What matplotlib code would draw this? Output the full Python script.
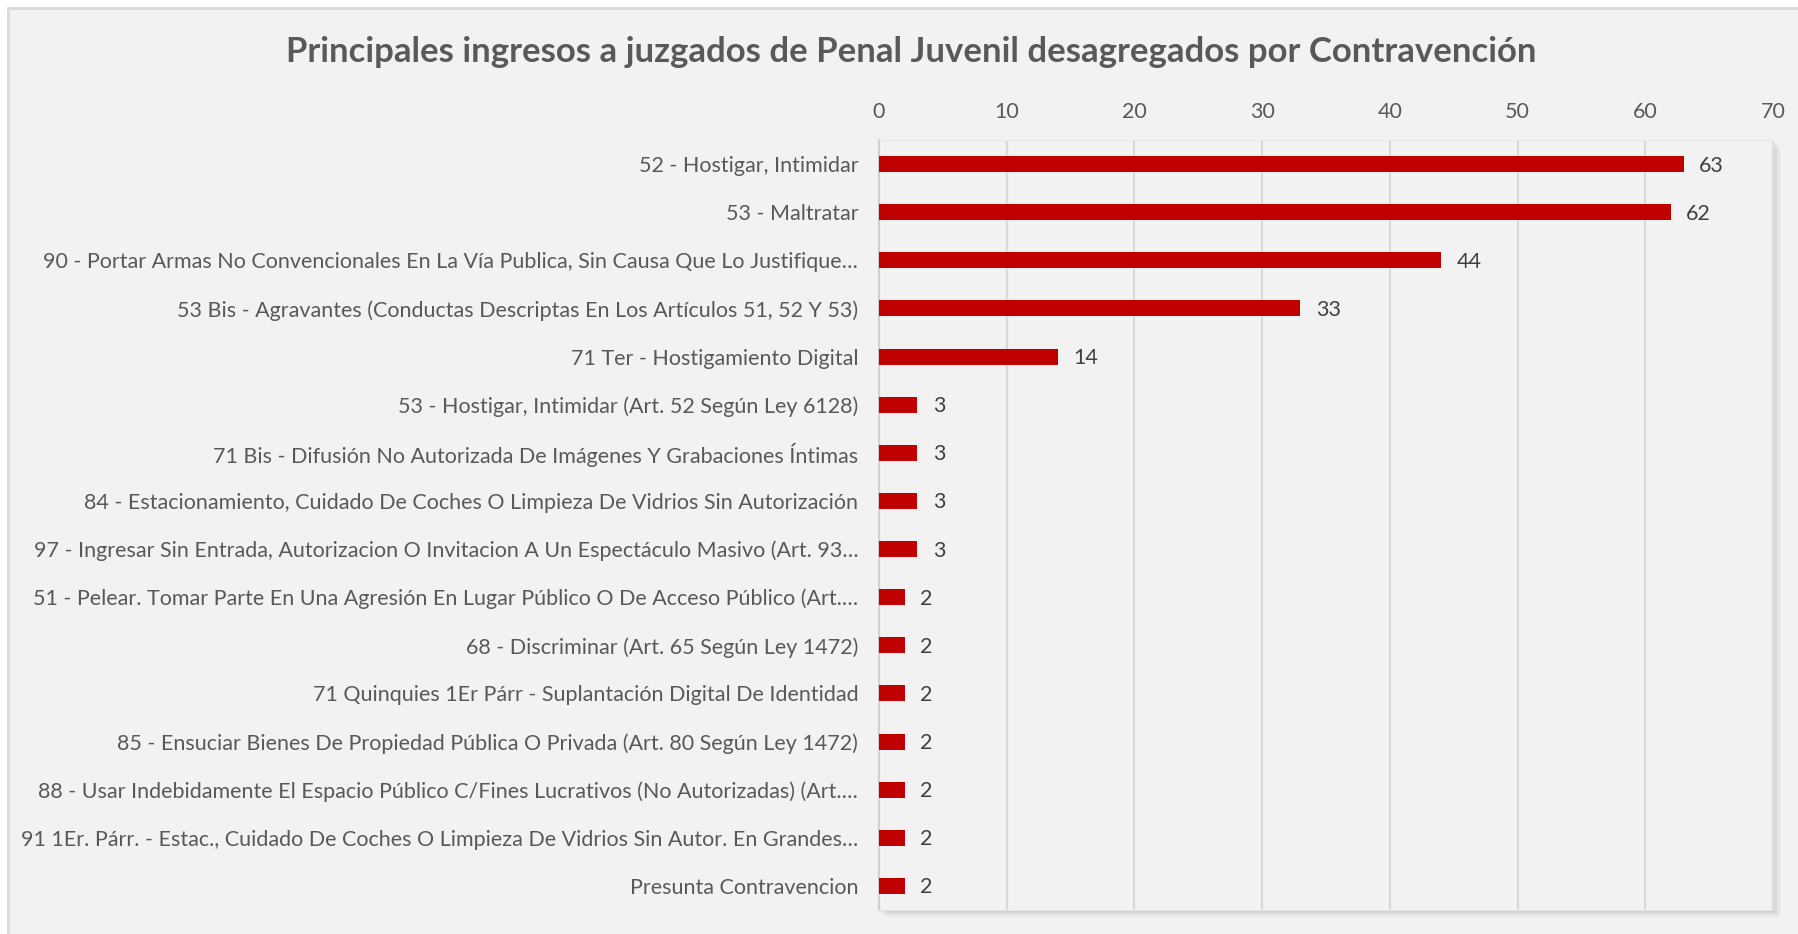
import matplotlib
matplotlib.use('Agg')
from matplotlib import pyplot as plt
from matplotlib.patches import Rectangle

plt.rcParams['font.family'] = ['Lato', 'DejaVu Sans']

# datos (de arriba hacia abajo)
categorias = [
    '52 - Hostigar, Intimidar',
    '53 - Maltratar',
    '90 - Portar Armas No Convencionales En La Vía Publica, Sin Causa Que Lo Justifique…',
    '53 Bis - Agravantes (Conductas Descriptas En Los Artículos 51, 52 Y 53)',
    '71 Ter - Hostigamiento Digital',
    '53 - Hostigar, Intimidar (Art. 52 Según Ley 6128)',
    '71 Bis - Difusión No Autorizada De Imágenes Y Grabaciones Íntimas',
    '84 - Estacionamiento, Cuidado De Coches O Limpieza De Vidrios Sin Autorización',
    '97 - Ingresar Sin Entrada, Autorizacion O Invitacion A Un Espectáculo Masivo (Art. 93…',
    '51 - Pelear. Tomar Parte En Una Agresión En Lugar Público O De Acceso Público (Art.…',
    '68 - Discriminar (Art. 65 Según Ley 1472)',
    '71 Quinquies 1Er Párr - Suplantación Digital De Identidad',
    '85 - Ensuciar Bienes De Propiedad Pública O Privada (Art. 80 Según Ley 1472)',
    '88 - Usar Indebidamente El Espacio Público C/Fines Lucrativos (No Autorizadas) (Art.…',
    '91 1Er. Párr. - Estac., Cuidado De Coches O Limpieza De Vidrios Sin Autor. En Grandes…',
    'Presunta Contravencion',
]
valores = [63, 62, 44, 33, 14, 3, 3, 3, 3, 2, 2, 2, 2, 2, 2, 2]
ticks_x = [0, 10, 20, 30, 40, 50, 60, 70]

titulo = 'Principales ingresos a juzgados de Penal Juvenil desagregados por Contravención'

W, H = 1798, 934
fig = plt.figure(figsize=(W / 100, H / 100), dpi=100)
fig.patch.set_facecolor('white')

# fondo del grafico con borde arriba/izquierda
fig.patches.append(Rectangle((8 / W, 0), 1, 1 - 8 / H, transform=fig.transFigure,
                             facecolor='#f2f2f2', edgecolor='none', zorder=0))
fig.lines.append(plt.Line2D([8 / W, 8 / W], [0, 1 - 8 / H], transform=fig.transFigure,
                            color='#d9d9d9', lw=2))
fig.lines.append(plt.Line2D([8 / W, 1], [1 - 8 / H, 1 - 8 / H], transform=fig.transFigure,
                            color='#d9d9d9', lw=2))

left, right, top, bottom = 879, 1773, 140, 910
# sombra del area de trazado
for i, a in enumerate([0.05, 0.04, 0.03, 0.02]):
    d = 2 + i * 2
    fig.patches.append(Rectangle(((left + d) / W, (H - bottom - d) / H),
                                 (right - left) / W, (bottom - top) / H,
                                 transform=fig.transFigure, facecolor='black',
                                 alpha=a, edgecolor='none', zorder=0.5))

ax = fig.add_axes([left / W, (H - bottom) / H, (right - left) / W, (bottom - top) / H])
ax.set_zorder(2)
ax.set_facecolor('#f2f2f2')

y = list(range(len(categorias)))
ax.barh(y, valores, height=0.33, color='#c00000', zorder=3)
for yi, v in zip(y, valores):
    ax.text(v + 1.2, yi + 0.03, str(v), va='center', ha='left', fontsize=15.5, color='#404040')

ax.set_xlim(0, 70)
ax.set_ylim(len(categorias) - 0.5, -0.5)
ax.set_xticks(ticks_x)
ax.xaxis.tick_top()
ax.tick_params(axis='x', length=0, pad=13, labelsize=15.5, labelcolor='#595959')
ax.set_yticks(y)
ax.set_yticklabels(categorias)
ax.tick_params(axis='y', length=0, pad=15, labelsize=15.5, labelcolor='#595959')
ax.grid(axis='x', color='#d9d9d9', lw=1.5, zorder=0)
for s in ['top', 'right', 'bottom']:
    ax.spines[s].set_color('#e6e6e6')
ax.spines['left'].set_color('#d0d0d0')
ax.spines['left'].set_linewidth(1.5)

fig.text(0.507, 1 - 52 / H, titulo, ha='center', va='center', fontsize=25,
         fontweight='bold', color='#595959')

fig.savefig('out.png', dpi=100, facecolor=fig.get_facecolor())
